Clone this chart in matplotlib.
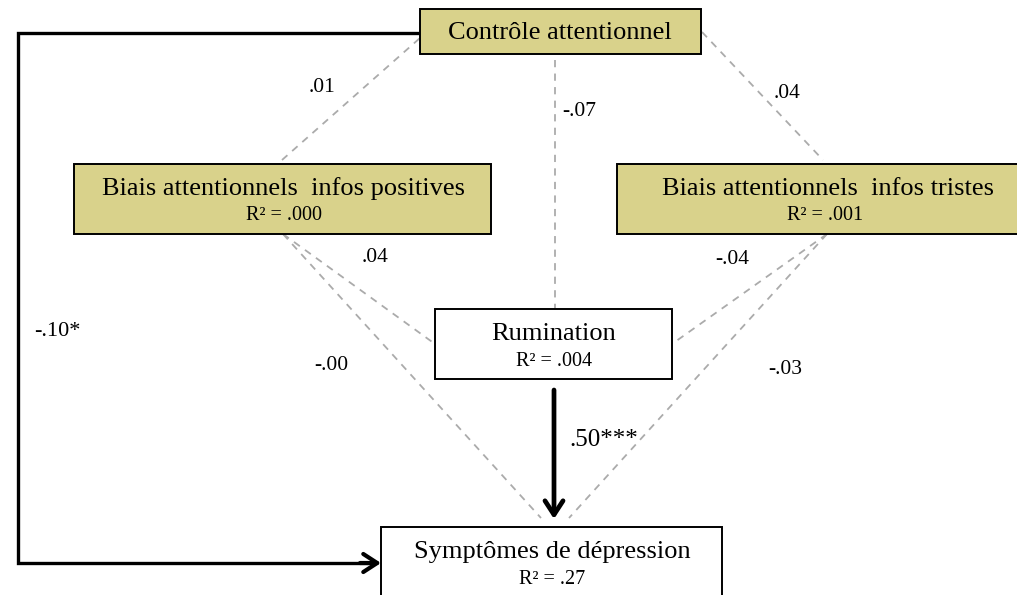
import matplotlib
matplotlib.use('Agg')
from matplotlib import pyplot as plt
from matplotlib.patches import Rectangle, FancyArrowPatch

# noms des variables et R²
nodes = ['Contrôle attentionnel', 'Biais attentionnels  infos positives',
         'Biais attentionnels  infos tristes', 'Rumination', 'Symptômes de dépression']
r2 = [None, '.000', '.001', '.004', '.27']

# coefficients des chemins
coefs = ['.01', '-.07', '.04', '.04', '-.04', '-.10*', '-.00', '-.03', '.50***']

plt.rcParams['font.family'] = ['Liberation Serif', 'DejaVu Serif']

fig = plt.figure(figsize=(10.17, 5.95), dpi=100)
ax = fig.add_axes([0, 0, 1, 1])
ax.set_xlim(0, 1017)
ax.set_ylim(595, 0)
ax.axis('off')

gold = '#D9D28B'
dash = dict(color='#ABABAB', lw=1.3, ls=(0, (4, 3.5)), zorder=1)

# boites (x0, y0, x1, y1)
boxes = [(420, 9, 701, 54), (74, 164, 491, 234), (617, 164, 1020, 234),
         (435, 309, 672, 379), (381, 527, 722, 605)]
fills = [gold, gold, gold, 'white', 'white']
for (x0, y0, x1, y1), fc in zip(boxes, fills):
    ax.add_patch(Rectangle((x0, y0), x1 - x0, y1 - y0, fc=fc, ec='black', lw=1.4, zorder=3))

title_pos = [(560, 33), (284, 189), (828, 189), (554, 334), (552, 552)]
r2_pos = [None, (284, 216), (825, 216), (554, 362), (552, 579)]
for i, name in enumerate(nodes):
    ax.text(*title_pos[i], name, ha='center', va='center', fontsize=19, zorder=4)
    if r2[i]:
        ax.text(*r2_pos[i], 'R² = ' + r2[i], ha='center', va='center', fontsize=14.5, zorder=4)

# chemins non significatifs (pointillés)
ax.plot([282, 420], [160, 38], **dash)
ax.plot([702, 823], [32, 160], **dash)
ax.plot([555, 555], [60, 309], **dash)
ax.plot([283, 435], [234, 344], **dash)
ax.plot([283, 541], [234, 518], **dash)
ax.plot([827, 672], [234, 344], **dash)
ax.plot([827, 569], [234, 518], **dash)

# chemins significatifs
ax.plot([420, 18, 18, 372], [33, 33, 563, 563], color='black', lw=2.4,
        solid_joinstyle='miter', zorder=2)
ax.add_patch(FancyArrowPatch((360, 563), (381, 563), arrowstyle='->,head_length=10,head_width=6.5',
                             color='black', lw=3.0, zorder=2, shrinkA=0, shrinkB=0))
ax.add_patch(FancyArrowPatch((554, 390), (554, 519), arrowstyle='->,head_length=10,head_width=6.5',
                             color='black', lw=3.4, zorder=2, shrinkA=0, shrinkB=0))

coef_pos = [(322, 88), (579, 112), (787, 93), (375, 258), (732, 260),
            (57, 331), (331, 365), (785, 370), (604, 440)]
sizes = [15.5, 15.5, 15.5, 15.5, 15.5, 16, 15.5, 15.5, 18]
for txt, (x, y), fs in zip(coefs, coef_pos, sizes):
    ax.text(x, y, txt, ha='center', va='center', fontsize=fs, zorder=4)

fig.savefig('out.png', dpi=100)
